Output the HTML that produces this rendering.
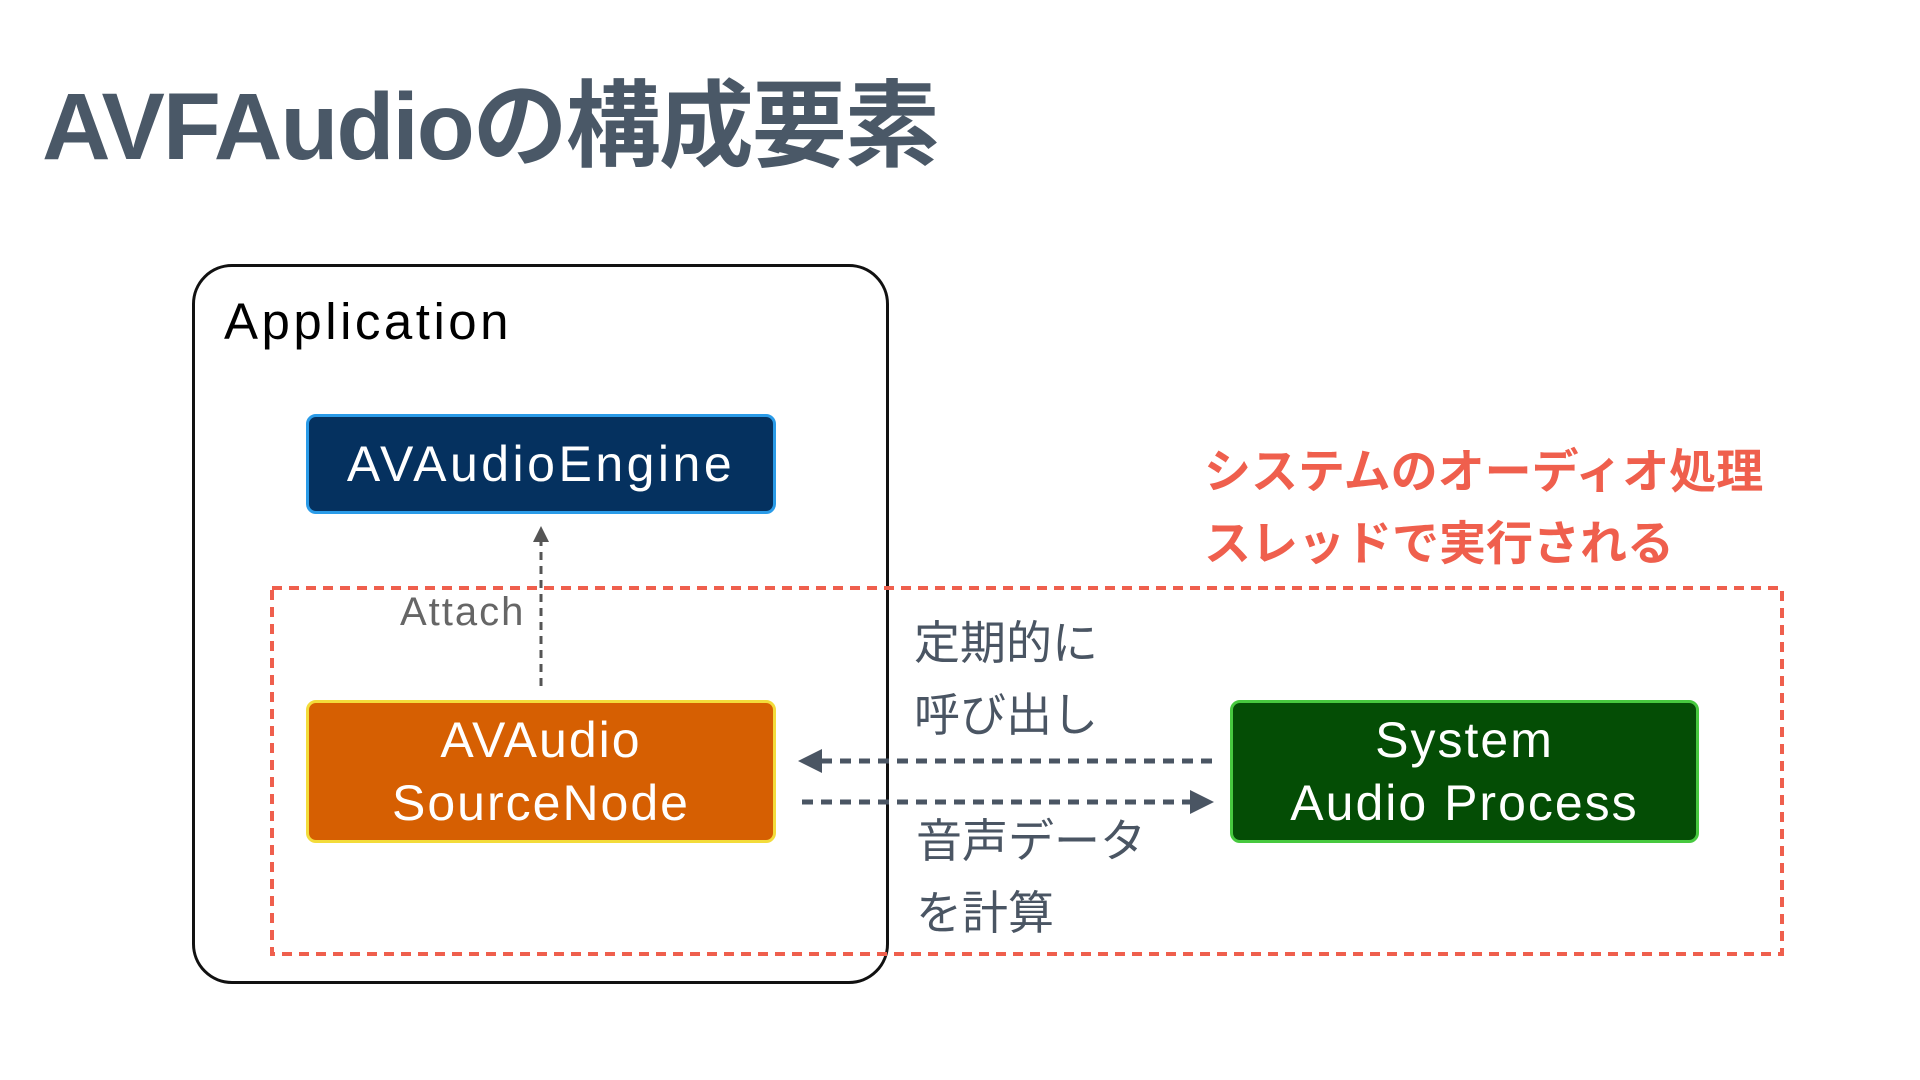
<!DOCTYPE html>
<html><head><meta charset="utf-8"><style>
body{margin:0;width:1920px;height:1080px;background:#fff;position:relative;overflow:hidden;font-family:"Liberation Sans","Noto Sans CJK JP",sans-serif}
.t{position:absolute;white-space:nowrap;line-height:1}
.box{position:absolute;box-sizing:border-box;display:flex;flex-direction:column;align-items:center;justify-content:center;text-align:center;color:#fff;font-size:50px;line-height:63px;border-radius:10px;letter-spacing:2px}
</style></head><body>
<div class="t" style="left:42px;top:80px;font-size:95px;font-weight:bold;color:#4a5867;letter-spacing:-2px">AVFAudioの構成要素</div>
<div style="position:absolute;left:192px;top:264px;width:697px;height:720px;box-sizing:border-box;border:3px solid #111;border-radius:40px"></div>
<div class="t" style="left:224px;top:296px;font-size:51px;color:#000;letter-spacing:3.5px">Application</div>
<div class="box" style="left:306px;top:414px;width:470px;height:100px;background:#05315f;border:3px solid #2a9be8;letter-spacing:3.5px">AVAudioEngine</div>
<div class="box" style="left:306px;top:700px;width:470px;height:143px;background:#d65f02;border:3px solid #f3dc3b">AVAudio<br>SourceNode</div>
<div class="box" style="left:1230px;top:700px;width:469px;height:143px;background:#044d05;border:3px solid #47c93f">System<br>Audio Process</div>
<svg style="position:absolute;left:0;top:0" width="1920" height="1080">
<rect x="272" y="588" width="1510" height="366" fill="none" stroke="#ef5f4d" stroke-width="4" stroke-dasharray="10,7"/>
<line x1="541" y1="686" x2="541" y2="542" stroke="#555" stroke-width="3" stroke-dasharray="8,6"/>
<polygon points="541,526 533,542 549,542" fill="#555"/>
<line x1="1212" y1="761" x2="820" y2="761" stroke="#4a5563" stroke-width="5" stroke-dasharray="11,8"/>
<polygon points="798,761 822,749 822,773" fill="#4a5563"/>
<line x1="802" y1="802" x2="1190" y2="802" stroke="#4a5563" stroke-width="5" stroke-dasharray="11,8"/>
<polygon points="1214,802 1190,790 1190,814" fill="#4a5563"/>
</svg>
<div class="t" style="left:400px;top:592px;font-size:40px;color:#666;letter-spacing:2px">Attach</div>
<div class="t" style="left:1204px;top:448px;font-size:47px;color:#ef5f4d;font-weight:bold">システムのオーディオ処理</div>
<div class="t" style="left:1204px;top:520px;font-size:47px;color:#ef5f4d;font-weight:bold">スレッドで実行される</div>
<div class="t" style="left:914px;top:620px;font-size:46px;color:#4a5563">定期的に</div>
<div class="t" style="left:914px;top:692px;font-size:46px;color:#4a5563">呼び出し</div>
<div class="t" style="left:916px;top:818px;font-size:46px;color:#4a5563">音声データ</div>
<div class="t" style="left:916px;top:890px;font-size:46px;color:#4a5563">を計算</div>
</body></html>
